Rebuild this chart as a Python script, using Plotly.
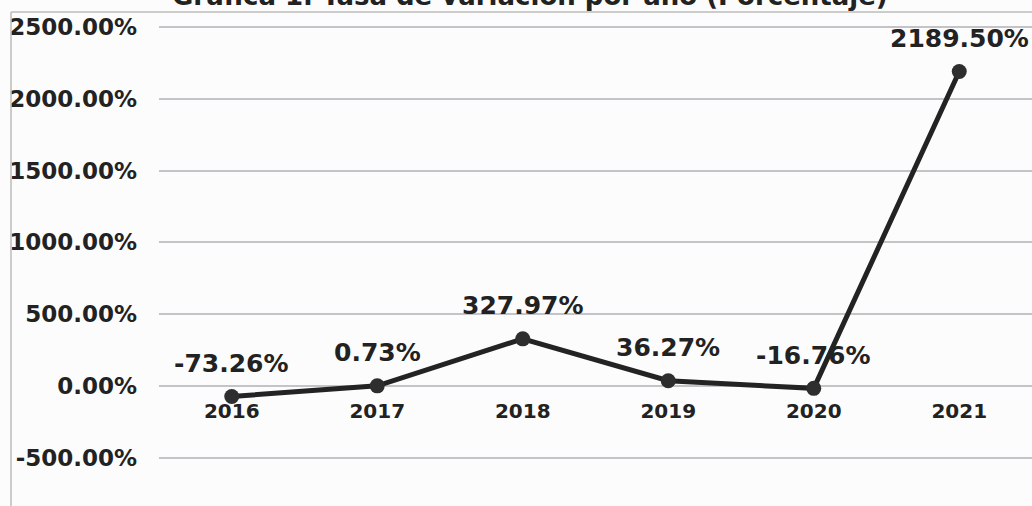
import plotly.graph_objects as go

years = [2016, 2017, 2018, 2019, 2020, 2021]
rates = [-73.26, 0.73, 327.97, 36.27, -16.76, 2189.50]
labels = ["-73.26%", "0.73%", "327.97%", "36.27%", "-16.76%", "2189.50%"]
y_ticks = [-500, 0, 500, 1000, 1500, 2000, 2500]
y_tick_text = ["-500.00%", "0.00%", "500.00%", "1000.00%", "1500.00%", "2000.00%", "2500.00%"]
title_text = "Gráfica 1. Tasa de variación por año (Porcentaje)"

FONT = "DejaVu Sans"
INK = "#222222"
y_min, y_max = -836, 2604
L, R, T, B = 159, 0, 12, 0
PW = 1032 - L - R

fig = go.Figure()
fig.add_trace(go.Scatter(
    x=years, y=rates, mode="lines+markers",
    line=dict(color="#232323", width=5),
    marker=dict(size=15, color="#2e2e2e"),
    cliponaxis=False, showlegend=False,
))

annotations = [
    dict(x=yr, y=v, xref="x", yref="y", text=lab, showarrow=False,
         yanchor="middle", yshift=33,
         font=dict(family=FONT, size=25, color=INK, weight="bold"))
    for yr, v, lab in zip(years, rates, labels)
]
annotations.append(dict(
    x=(530 - L) / PW, y=1, xref="paper", yref="paper", text=title_text,
    showarrow=False, xanchor="center", yanchor="bottom", yshift=-1,
    font=dict(family=FONT, size=26, color=INK, weight="bold"),
))

fig.update_layout(
    width=1032, height=506,
    margin=dict(l=L, r=R, t=T, b=B),
    paper_bgcolor="#fcfcfc", plot_bgcolor="#fcfcfc",
    annotations=annotations,
    xaxis=dict(
        range=[years[0] - 0.5, years[-1] + 0.5], tickvals=years,
        ticktext=[str(y) for y in years],
        showgrid=False, zeroline=False, showline=False, anchor="free",
        position=(0 - y_min) / (y_max - y_min),
        tickfont=dict(family=FONT, size=20, color=INK, weight="bold"),
        ticks="", ticklabelstandoff=11,
    ),
    yaxis=dict(
        range=[y_min, y_max], tickvals=y_ticks, ticktext=y_tick_text,
        showgrid=True, gridcolor="#c4c4c8", gridwidth=1.5, zeroline=False,
        showline=False, ticks="", ticklabelstandoff=21,
        tickfont=dict(family=FONT, size=23, color=INK, weight="bold"),
    ),
    shapes=[
        dict(type="line", xref="paper", yref="paper", x0=(11 - L) / PW, x1=1.0, y0=1, y1=1,
             line=dict(color="#bdbdbd", width=1.5)),
        dict(type="line", xref="paper", yref="paper", x0=(11 - L) / PW, x1=(11 - L) / PW,
             y0=0, y1=1, line=dict(color="#bdbdbd", width=1.5)),
    ],
)

fig.write_html("out.html", config={"displayModeBar": False},
               post_script="document.body.style.margin='0';")
